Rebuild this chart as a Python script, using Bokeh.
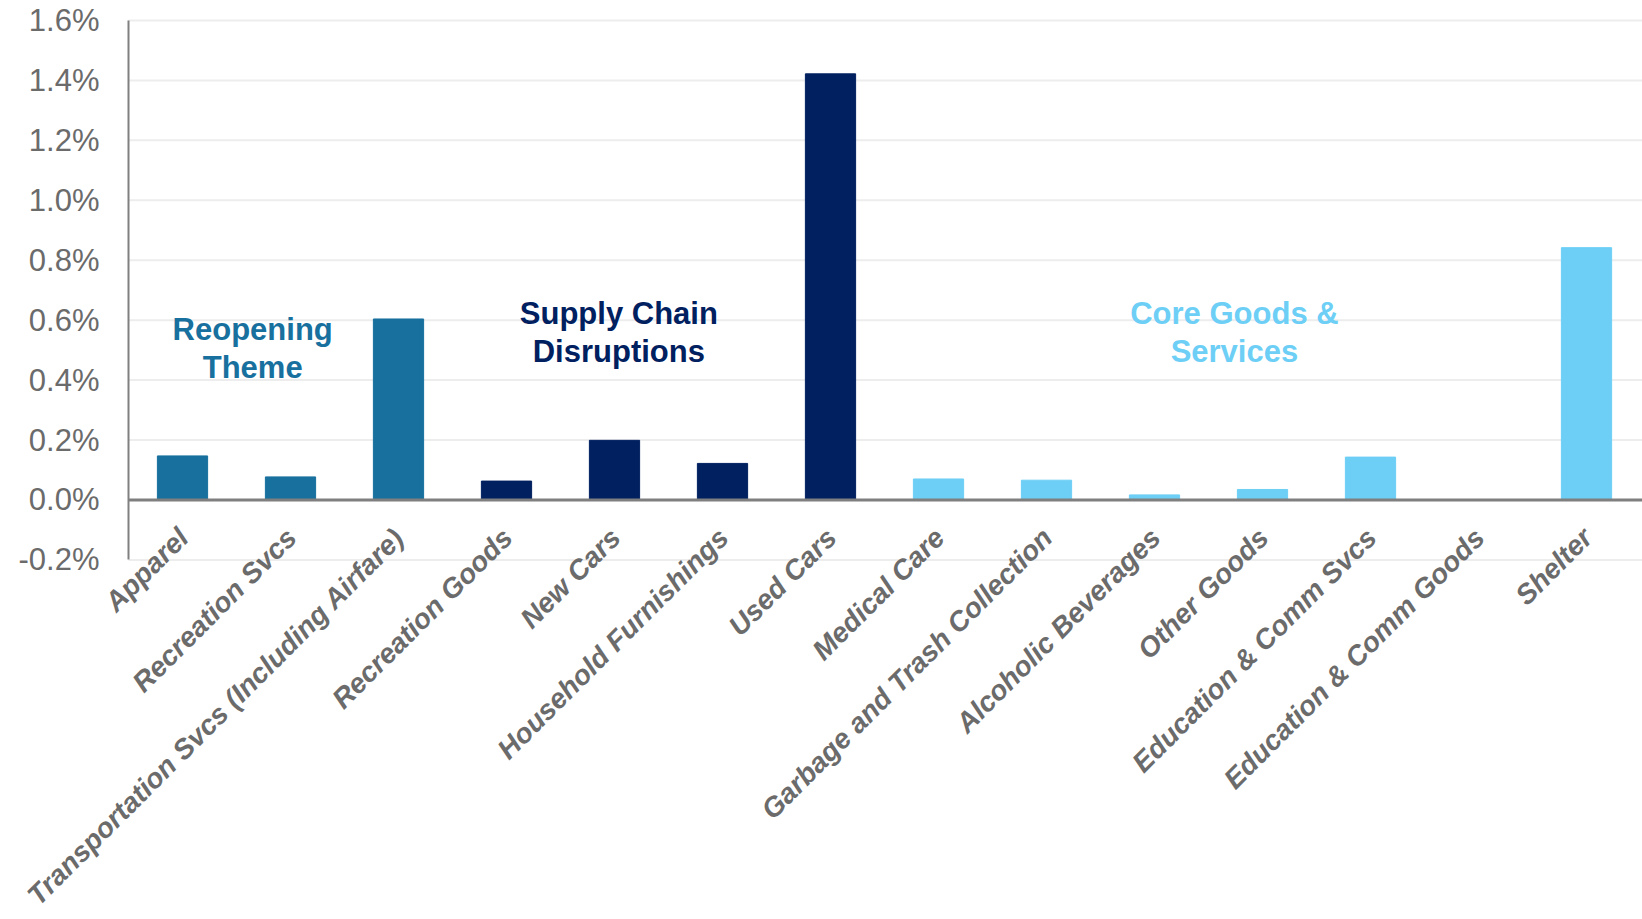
from bokeh.plotting import figure
from bokeh.models import ColumnDataSource, FixedTicker, PrintfTickFormatter, Range1d, Label
from bokeh.embed import file_html
from bokeh.resources import INLINE

# ---- data ----
categories = [
    "Apparel", "Recreation Svcs", "Transportation Svcs (Including Airfare)",
    "Recreation Goods", "New Cars", "Household Furnishings", "Used Cars",
    "Medical Care", "Garbage and Trash Collection", "Alcoholic Beverages",
    "Other Goods", "Education & Comm Svcs", "Education & Comm Goods", "Shelter",
]
values = [0.147, 0.077, 0.604, 0.063, 0.199, 0.122, 1.422,
          0.070, 0.066, 0.017, 0.035, 0.143, 0.0, 0.842]
groups = ["Reopening"] * 3 + ["Supply"] * 4 + ["Core"] * 7
group_colors = {"Reopening": "#17709e", "Supply": "#002060", "Core": "#6dcff6"}
y_ticks = [-0.2, 0.0, 0.2, 0.4, 0.6, 0.8, 1.0, 1.2, 1.4, 1.6]

annot_lines = [
    ("Reopening", 1.15, 0.568, "Reopening"),
    ("Theme", 1.15, 0.442, "Reopening"),
    ("Supply Chain", 4.54, 0.622, "Supply"),
    ("Disruptions", 4.54, 0.495, "Supply"),
    ("Core Goods &", 10.24, 0.622, "Core"),
    ("Services", 10.24, 0.495, "Core"),
]

n = len(categories)
xs = [i + 0.5 for i in range(n)]
src = ColumnDataSource(dict(x=xs, top=values,
                            color=[group_colors[g] for g in groups]))

# The plotting frame covers the whole page, so that the slanted category
# names and the value labels are never clipped; the value axis is pinned at x=0.
W, H = 1642, 919
px_per_cat = 108.0
px_per_unit = 299.67
x_start = -128 / px_per_cat
x_end = x_start + W / px_per_cat
y_end = y_ticks[-1] + 20 / px_per_unit
y_start = y_end - H / px_per_unit

p = figure(width=W, height=H, output_backend="svg", toolbar_location=None,
           x_range=Range1d(x_start, x_end), y_range=Range1d(y_start, y_end),
           min_border=0)
p.outline_line_color = None
p.background_fill_color = "white"
p.xaxis.visible = False
p.grid.visible = False

# horizontal grid lines (stop at the value axis)
p.segment(x0=[0] * len(y_ticks), x1=[x_end] * len(y_ticks), y0=y_ticks, y1=y_ticks,
          line_color="#ededed", line_width=2)

p.vbar(x="x", top="top", bottom=0, width=0.465, color="color", source=src)

# zero line (category axis)
p.segment(x0=[0], x1=[x_end], y0=[0], y1=[0], line_color="#7f7f7f", line_width=3)

# y axis
yax = p.yaxis[0]
yax.fixed_location = 0
yax.bounds = (y_ticks[0], y_ticks[-1])
yax.ticker = FixedTicker(ticks=y_ticks)
yax.formatter = PrintfTickFormatter(format="%.1f%%")
yax.major_label_text_font = "Liberation Sans"
yax.major_label_text_font_size = "31px"
yax.major_label_text_color = "#6b6b6b"
yax.major_label_standoff = 23
yax.major_tick_line_color = None
yax.minor_tick_line_color = None
yax.axis_line_color = "#808080"
yax.axis_line_width = 2

# category labels, rotated 45 degrees, hanging from the zero line
for x, c in zip(xs, categories):
    p.add_layout(Label(x=x, y=0, text=c, angle=0.7854, x_offset=-10, y_offset=-22,
                       text_align="right", text_baseline="top",
                       text_font="Liberation Sans", text_font_style="bold italic",
                       text_font_size="28px", text_color="#6b6b6b"))

for txt, x, y, g in annot_lines:
    p.add_layout(Label(x=x, y=y, text=txt, text_align="center",
                       text_baseline="alphabetic", text_font="Liberation Sans",
                       text_font_style="bold", text_font_size="31px",
                       text_color=group_colors[g]))

open("out.html", "w").write(file_html(p, INLINE))
